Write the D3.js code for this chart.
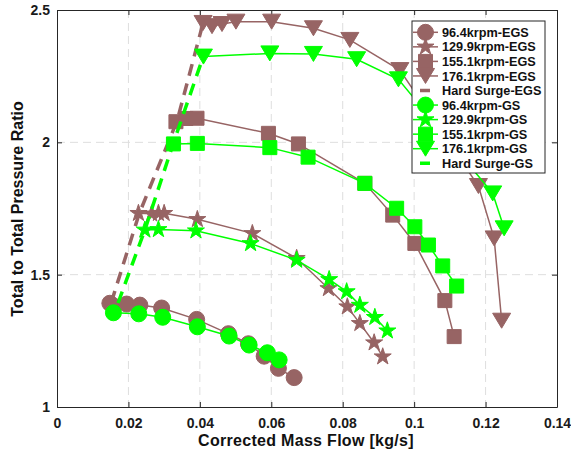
<!DOCTYPE html>
<html>
<head>
<meta charset="utf-8">
<script src="https://cdn.jsdelivr.net/npm/d3@7"></script>
<style>
body { margin: 0; background: #fff; }
svg { display: block; font-family: "Liberation Sans", Arial, Helvetica, sans-serif; }
</style>
</head>
<body>
<svg id="chart" width="571" height="453"></svg>
<script>
// values
const circEGS_x = [0.0148, 0.0158, 0.0195, 0.0232, 0.0293, 0.0391, 0.0480, 0.0536, 0.0580, 0.0620, 0.0664];
const circEGS_y = [1.392, 1.382, 1.389, 1.385, 1.374, 1.331, 1.277, 1.239, 1.192, 1.146, 1.111];
const starEGS_x = [0.0228, 0.0265, 0.0284, 0.0300, 0.0393, 0.0547, 0.0671, 0.0760, 0.0813, 0.0848, 0.0888, 0.0912];
const starEGS_y = [1.732, 1.730, 1.732, 1.732, 1.709, 1.656, 1.562, 1.448, 1.379, 1.316, 1.243, 1.190];
const sqEGS_x = [0.0333, 0.0361, 0.0392, 0.0592, 0.0676, 0.0862, 0.0940, 0.1002, 0.1086, 0.1112];
const sqEGS_y = [2.078, 2.090, 2.091, 2.034, 1.994, 1.845, 1.725, 1.618, 1.402, 1.266];
const triEGS_x = [0.0409, 0.0434, 0.0462, 0.0501, 0.0601, 0.0718, 0.0820, 0.0960, 0.1180, 0.1224, 0.1245];
const triEGS_y = [2.451, 2.439, 2.447, 2.456, 2.456, 2.431, 2.387, 2.273, 1.835, 1.637, 1.326];
const surgeEGS_x = [0.0152, 0.0230, 0.0336, 0.0409];
const surgeEGS_y = [1.395, 1.730, 2.080, 2.451];

const circGS_x = [0.0158, 0.0229, 0.0296, 0.0393, 0.0482, 0.0538, 0.0589, 0.0622];
const circGS_y = [1.356, 1.352, 1.339, 1.303, 1.268, 1.234, 1.205, 1.178];
const starGS_x = [0.0246, 0.0284, 0.0389, 0.0542, 0.0671, 0.0762, 0.0811, 0.0848, 0.0890, 0.0925];
const starGS_y = [1.669, 1.671, 1.666, 1.618, 1.555, 1.482, 1.436, 1.385, 1.339, 1.288];
const sqGS_x = [0.0326, 0.0393, 0.0596, 0.0703, 0.0862, 0.0951, 0.1002, 0.1040, 0.1080, 0.1119];
const sqGS_y = [1.994, 1.996, 1.980, 1.944, 1.845, 1.751, 1.681, 1.612, 1.533, 1.457];
const triGS_x = [0.0410, 0.0596, 0.0718, 0.0839, 0.0956, 0.1220, 0.1252];
const triGS_y = [2.324, 2.336, 2.334, 2.314, 2.238, 1.807, 1.675];
const surgeGS_x = [0.0171, 0.0246, 0.0325, 0.0409];
const surgeGS_y = [1.393, 1.669, 1.994, 2.322];

const xTicks = [0, 0.02, 0.04, 0.06, 0.08, 0.1, 0.12, 0.14];
const xTickLabels = ["0", "0.02", "0.04", "0.06", "0.08", "0.1", "0.12", "0.14"];
const yTicks = [1, 1.5, 2, 2.5];
const yTickLabels = ["1", "1.5", "2", "2.5"];

const brown = "#976464";
const green = "#00ff00";

const series = [
    {name: "96.4krpm-EGS", xs: circEGS_x, ys: circEGS_y, color: brown, marker: "circle"},
    {name: "129.9krpm-EGS", xs: starEGS_x, ys: starEGS_y, color: brown, marker: "star"},
    {name: "155.1krpm-EGS", xs: sqEGS_x, ys: sqEGS_y, color: brown, marker: "square"},
    {name: "176.1krpm-EGS", xs: triEGS_x, ys: triEGS_y, color: brown, marker: "tri"},
    {name: "Hard Surge-EGS", xs: surgeEGS_x, ys: surgeEGS_y, color: brown, marker: null},
    {name: "96.4krpm-GS", xs: circGS_x, ys: circGS_y, color: green, marker: "circle"},
    {name: "129.9krpm-GS", xs: starGS_x, ys: starGS_y, color: green, marker: "star"},
    {name: "155.1krpm-GS", xs: sqGS_x, ys: sqGS_y, color: green, marker: "square"},
    {name: "176.1krpm-GS", xs: triGS_x, ys: triGS_y, color: green, marker: "tri"},
    {name: "Hard Surge-GS", xs: surgeGS_x, ys: surgeGS_y, color: green, marker: null}
];

const svg = d3.select("#chart");
const pLeft = 57, pRight = 557, pTop = 10, pBottom = 407;

const x = d3.scaleLinear().domain([0, 0.14]).range([pLeft, pRight]);
const y = d3.scaleLinear().domain([1, 2.5]).range([pBottom, pTop]);

const axisColor = "#262626";

// grid
const grid = svg.append("g").attr("class", "grid");
grid.selectAll(".gx").data(xTicks.slice(1, -1)).enter().append("line")
    .attr("x1", d => x(d)).attr("x2", d => x(d))
    .attr("y1", pTop).attr("y2", pBottom)
    .attr("stroke", "#dedede").attr("stroke-dasharray", "8,5");
grid.selectAll(".gy").data(yTicks.slice(1, -1)).enter().append("line")
    .attr("x1", pLeft).attr("x2", pRight)
    .attr("y1", d => y(d)).attr("y2", d => y(d))
    .attr("stroke", "#dedede").attr("stroke-dasharray", "8,5");

// axes
function styleAxis(g) {
    g.select(".domain").attr("stroke", axisColor);
    g.selectAll(".tick line").attr("stroke", axisColor);
    g.selectAll("text")
        .attr("fill", "#1a1a1a")
        .style("font-size", "14px")
        .style("font-weight", "bold");
}

svg.append("g")
    .attr("transform", `translate(0,${pBottom})`)
    .call(d3.axisBottom(x).tickValues(xTicks).tickFormat((d, i) => xTickLabels[i])
        .tickSizeInner(-5).tickSizeOuter(0).tickPadding(11))
    .call(styleAxis);

svg.append("g")
    .attr("transform", `translate(${pLeft},0)`)
    .call(d3.axisLeft(y).tickValues(yTicks).tickFormat((d, i) => yTickLabels[i])
        .tickSizeInner(-5).tickSizeOuter(0).tickPadding(7))
    .call(styleAxis);

svg.append("g")
    .attr("transform", `translate(0,${pTop})`)
    .call(d3.axisTop(x).tickValues(xTicks).tickFormat("").tickSizeInner(-5).tickSizeOuter(0))
    .call(styleAxis);

svg.append("g")
    .attr("transform", `translate(${pRight},0)`)
    .call(d3.axisRight(y).tickValues(yTicks).tickFormat("").tickSizeInner(-5).tickSizeOuter(0))
    .call(styleAxis);

// markers
function markerPath(type) {
    if (type === "circle") return d3.symbol().type(d3.symbolCircle).size(201)();
    if (type === "square") return d3.symbol().type(d3.symbolSquare).size(196)();
    if (type === "star") return d3.symbol().type(d3.symbolStar).size(90)();
    if (type === "tri") return "M-9,-7.5L9,-7.5L0,7.5Z";
    return null;
}

const line = d3.line().x(d => x(d[0])).y(d => y(d[1]));

const plot = svg.append("g");
series.forEach(s => {
    const pts = s.xs.map((v, i) => [v, s.ys[i]]);
    const g = plot.append("g");
    if (s.marker) {
        g.append("path").datum(pts)
            .attr("d", line)
            .attr("fill", "none")
            .attr("stroke", s.color)
            .attr("stroke-width", 1.5);
        g.selectAll(".m").data(pts).enter().append("path")
            .attr("transform", d => `translate(${x(d[0])},${y(d[1])})`)
            .attr("d", markerPath(s.marker))
            .attr("fill", s.color)
            .attr("stroke", s.color)
            .attr("stroke-width", 1);
    } else {
        g.append("path").datum(pts)
            .attr("d", line)
            .attr("fill", "none")
            .attr("stroke", s.color)
            .attr("stroke-width", 3.5)
            .attr("stroke-dasharray", "12,8");
    }
});

// legend
const lg = svg.append("g");
lg.append("rect")
    .attr("x", 412).attr("y", 21).attr("width", 133).attr("height", 152)
    .attr("fill", "#fff").attr("stroke", axisColor).attr("stroke-width", 1);

series.forEach((s, i) => {
    const cy = 32.3 + i * 14.55;
    if (s.marker) {
        lg.append("line")
            .attr("x1", 413).attr("x2", 438).attr("y1", cy).attr("y2", cy)
            .attr("stroke", s.color).attr("stroke-width", 1.5);
        lg.append("path")
            .attr("transform", `translate(425.5,${cy})`)
            .attr("d", markerPath(s.marker))
            .attr("fill", s.color).attr("stroke", s.color);
    } else {
        lg.append("line")
            .attr("x1", 420).attr("x2", 430).attr("y1", cy).attr("y2", cy)
            .attr("stroke", s.color).attr("stroke-width", 3.5);
    }
    lg.append("text")
        .attr("x", 442).attr("y", cy).attr("dy", "0.36em")
        .attr("fill", "#111")
        .style("font-size", "12.7px").style("font-weight", "bold")
        .text(s.name);
});

// axis titles
svg.append("text")
    .attr("x", 306).attr("y", 440).attr("dy", "0.36em")
    .attr("text-anchor", "middle")
    .attr("fill", "#111")
    .style("font-size", "16px").style("font-weight", "bold")
    .style("letter-spacing", "0.3px")
    .text("Corrected Mass Flow [kg/s]");

svg.append("text")
    .attr("transform", "translate(17,209) rotate(-90)")
    .attr("dy", "0.36em")
    .attr("text-anchor", "middle")
    .attr("fill", "#111")
    .style("font-size", "16px").style("font-weight", "bold")
    .text("Total to Total Pressure Ratio");
</script>
</body>
</html>
